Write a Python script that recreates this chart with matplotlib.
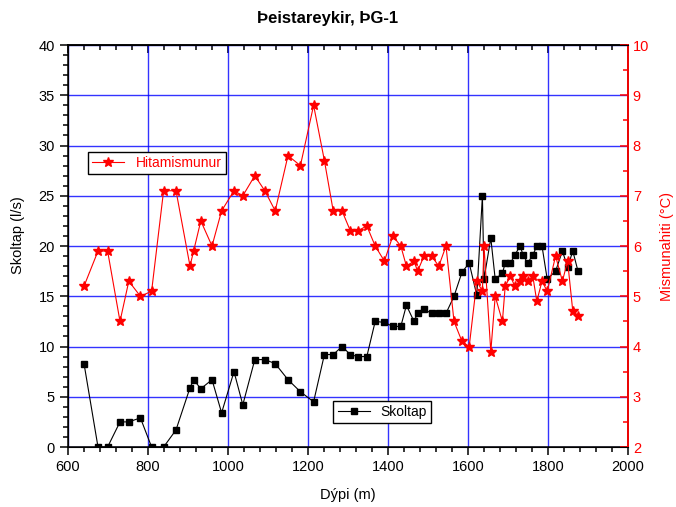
import matplotlib
matplotlib.use('Agg')
import matplotlib.pyplot as plt
from matplotlib.ticker import MultipleLocator

plt.rcParams['font.family'] = ['Liberation Sans', 'DejaVu Sans']
plt.rcParams['font.size'] = 10

# dýpi (m)
dypi = [640, 675, 699, 730, 752, 781, 809, 839, 870, 905,
        914, 932, 960, 984, 1015, 1037, 1067, 1092, 1118, 1150,
        1181, 1214, 1241, 1263, 1285, 1306, 1324, 1347, 1368, 1391,
        1412, 1432, 1446, 1465, 1474, 1490, 1509, 1527, 1545, 1565,
        1585, 1603, 1622, 1636, 1640, 1657, 1668, 1686, 1693, 1706,
        1717, 1730, 1738, 1749, 1762, 1772, 1785, 1798, 1819, 1836,
        1849, 1862, 1875]

# skoltap (l/s)
skoltap = [8.3, 0.0, 0.0, 2.5, 2.5, 2.9, 0.0, 0.0, 1.7, 5.9,
           6.7, 5.8, 6.7, 3.4, 7.5, 4.2, 8.7, 8.7, 8.3, 6.7,
           5.5, 4.5, 9.2, 9.2, 10.0, 9.2, 9.0, 9.0, 12.5, 12.4,
           12.0, 12.0, 14.1, 12.5, 13.3, 13.7, 13.3, 13.3, 13.3, 15.0,
           17.4, 18.3, 15.1, 25.0, 16.7, 20.8, 16.7, 17.3, 18.3, 18.3,
           19.1, 20.0, 19.1, 18.3, 19.1, 20.0, 20.0, 16.7, 17.5, 19.5,
           17.9, 19.5, 17.5]

# mismunahiti (°C)
hiti = [5.2, 5.9, 5.9, 4.5, 5.3, 5.0, 5.1, 7.1, 7.1, 5.6,
        5.9, 6.5, 6.0, 6.7, 7.1, 7.0, 7.4, 7.1, 6.7, 7.8,
        7.6, 8.8, 7.7, 6.7, 6.7, 6.3, 6.3, 6.4, 6.0, 5.7,
        6.2, 6.0, 5.6, 5.7, 5.5, 5.8, 5.8, 5.6, 6.0, 4.5,
        4.1, 4.0, 5.3, 5.1, 6.0, 3.9, 5.0, 4.5, 5.2, 5.4,
        5.2, 5.3, 5.4, 5.3, 5.4, 4.9, 5.3, 5.1, 5.8, 5.3,
        5.7, 4.7, 4.6]

fig = plt.figure(figsize=(6.76, 5.07), dpi=100)
ax = fig.add_axes([0.1006, 0.1183, 0.8284, 0.7929])
ax2 = ax.twinx()

# Skoltap (vinstri ás)
l1, = ax.plot(dypi, skoltap, color='black', lw=0.8, marker='s', ms=5,
              label='Skoltap', zorder=3)
ax.set_xlim(600, 2000)
ax.set_ylim(0, 40)
ax.xaxis.set_major_locator(MultipleLocator(200))
ax.xaxis.set_minor_locator(MultipleLocator(40))
ax.yaxis.set_major_locator(MultipleLocator(5))
ax.yaxis.set_minor_locator(MultipleLocator(1))
ax.tick_params(axis='both', which='major', direction='out', length=6, width=1.1,
               labelsize=10.5)
ax.tick_params(axis='both', which='minor', direction='out', length=3.5, width=1.1)
ax.grid(True, which='major', color='#0000ff', lw=1.0, alpha=0.8)
ax.set_axisbelow(True)
for s in ax.spines.values():
    s.set_linewidth(1.1)
ax.set_xlabel('Dýpi (m)', fontsize=10.5, labelpad=10)
ax.set_ylabel('Skoltap (l/s)', fontsize=10.5)
ax.yaxis.set_label_coords(-0.076, 0.527)
fig.text(327.5 / 676, 1 - 19 / 507, 'Þeistareykir, ÞG-1', fontsize=12,
         fontweight='bold', ha='center', va='center')

# efri ás, hak inn á við
top = ax.secondary_xaxis('top')
top.xaxis.set_major_locator(MultipleLocator(200))
top.xaxis.set_minor_locator(MultipleLocator(40))
top.tick_params(which='major', direction='in', length=6, width=1.1, labeltop=False)
top.tick_params(which='minor', direction='in', length=3.5, width=1.1)
top.spines['top'].set_linewidth(1.1)

# Hitamismunur (hægri ás)
l2, = ax2.plot(dypi, hiti, color='red', lw=0.8, marker='*', ms=7,
               label='Hitamismunur', zorder=3)
ax2.set_ylim(2, 10)
ax2.yaxis.set_major_locator(MultipleLocator(1))
ax2.yaxis.set_minor_locator(MultipleLocator(0.5))
ax2.tick_params(axis='y', which='major', direction='in', length=6, width=1.1,
                colors='red', labelsize=10.5)
ax2.tick_params(axis='y', which='minor', direction='in', length=3.5, width=1.1,
                colors='red')
ax2.spines['right'].set_color('red')
ax2.spines['right'].set_linewidth(1.3)
ax2.set_ylabel('Mismunahiti (°C)', color='red', fontsize=10.5, labelpad=8)

leg1 = ax2.legend(handles=[l2], loc='upper left', bbox_to_anchor=(0.036, 0.734),
                  borderaxespad=0, fancybox=False, edgecolor='black',
                  handlelength=2.3, borderpad=0.3, framealpha=1)
for t in leg1.get_texts():
    t.set_color('red')
leg1.get_frame().set_linewidth(1.0)
ax2.add_artist(leg1)

leg2 = ax2.legend(handles=[l1], loc='lower left', bbox_to_anchor=(0.474, 0.059),
                  borderaxespad=0, fancybox=False, edgecolor='black',
                  handlelength=2.3, borderpad=0.3, framealpha=1)
leg2.get_frame().set_linewidth(1.0)

fig.savefig('out.png', dpi=100)
